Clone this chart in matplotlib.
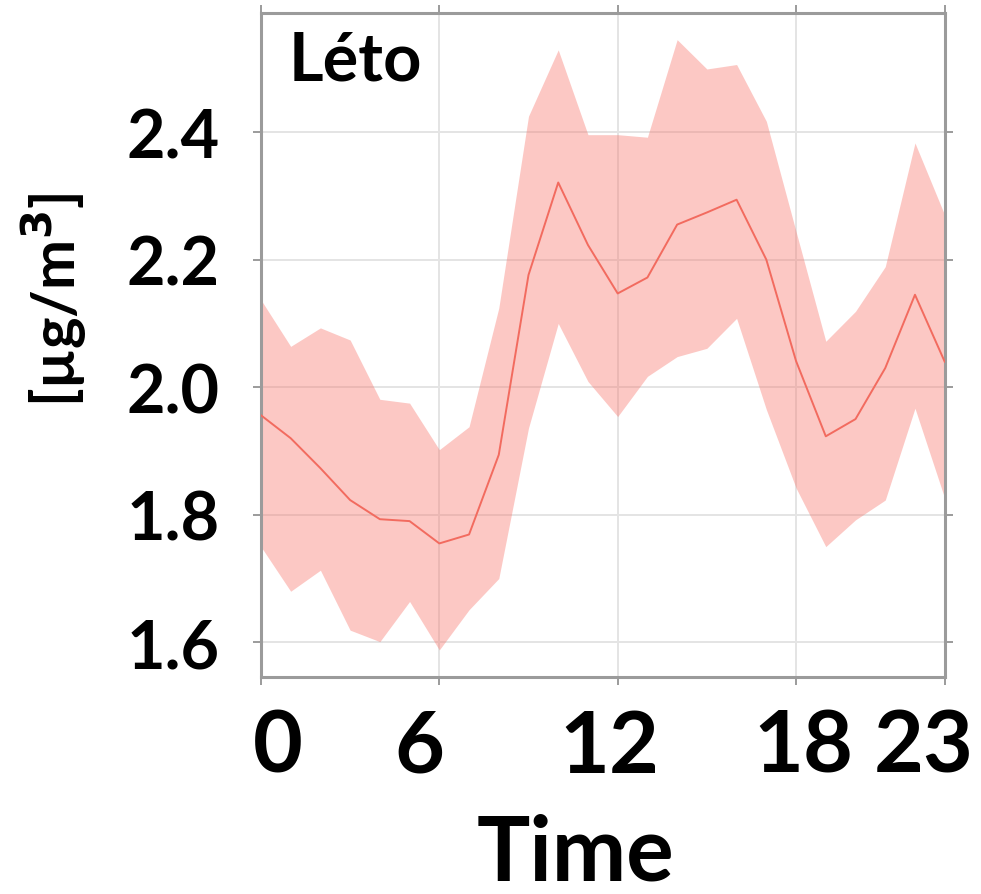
import matplotlib

matplotlib.use("Agg")
import matplotlib.pyplot as plt
import matplotlib.transforms as mtransforms
import numpy as np

# hourly profile, summer ("Léto")
hours = np.arange(24)
mean_conc = [1.956, 1.920, 1.873, 1.823, 1.793, 1.790, 1.755, 1.769,
             1.894, 2.176, 2.321, 2.223, 2.147, 2.172, 2.255, 2.274,
             2.294, 2.200, 2.041, 1.923, 1.950, 2.030, 2.145, 2.040]
upper_conc = [2.137, 2.064, 2.093, 2.074, 1.981, 1.975, 1.902, 1.938,
              2.124, 2.425, 2.529, 2.396, 2.396, 2.392, 2.545, 2.499,
              2.506, 2.417, 2.244, 2.072, 2.119, 2.189, 2.383, 2.270]
lower_conc = [1.750, 1.680, 1.713, 1.619, 1.601, 1.664, 1.588, 1.651,
              1.700, 1.936, 2.100, 2.009, 1.954, 2.017, 2.048, 2.061,
              2.108, 1.965, 1.842, 1.750, 1.792, 1.823, 1.967, 1.826]
x_ticks = [0, 6, 12, 18, 23]
y_ticks = [1.6, 1.8, 2.0, 2.2, 2.4]

plt.rcParams["font.family"] = ["Lato", "DejaVu Sans"]
plt.rcParams["font.weight"] = "bold"

fig = plt.figure(figsize=(9.81, 8.95), dpi=100)
ax = fig.add_axes([0.266, 0.2425, 0.697, 0.742])

ax.fill_between(hours, lower_conc, upper_conc, color="#F8766D", alpha=0.4,
                linewidth=0, zorder=2)
ax.plot(hours, mean_conc, color="#F26B5F", linewidth=1.4, zorder=3)

ax.set_xlim(0, 23)
ax.set_ylim(1.5456, 2.587)
ax.set_xticks(x_ticks)
ax.set_yticks(y_ticks)
ax.set_yticklabels([f"{v:.1f}" for v in y_ticks])
ax.grid(True, color="#e4e4e4", linewidth=1.4, zorder=0)
ax.set_axisbelow(True)

for side in ["left", "right", "top", "bottom"]:
    ax.spines[side].set_color("#9b9b9b")
    ax.spines[side].set_linewidth(2.2)

ax.tick_params(axis="both", which="both", direction="out", length=6, width=1.2,
               color="#8a8a8a", top=True, right=True)
ax.tick_params(axis="y", labelsize=48, pad=24)
ax.tick_params(axis="x", labelsize=62, pad=16)

# the x labels in the original sit a little off their ticks (pixels)
label_shift = [17, -20, -8, 7, -21]
for lab, dx in zip(ax.get_xticklabels(), label_shift):
    lab.set_transform(lab.get_transform()
                      + mtransforms.ScaledTranslation(dx / 100, 0, fig.dpi_scale_trans))

ax.set_xlabel("Time", fontsize=64, fontweight="bold")
ax.xaxis.label.set_va("baseline")
ax.xaxis.set_label_coords(0.46, -0.305)

ax.set_ylabel("[µg/m$^\\mathbf{3}$]", fontsize=43, fontweight="bold")
ax.yaxis.set_label_coords(-0.252, 0.569)

ax.text(0.04, 0.975, "Léto", transform=ax.transAxes, fontsize=48,
        fontweight="bold", va="top", ha="left")

fig.savefig("out.png", dpi=100)
